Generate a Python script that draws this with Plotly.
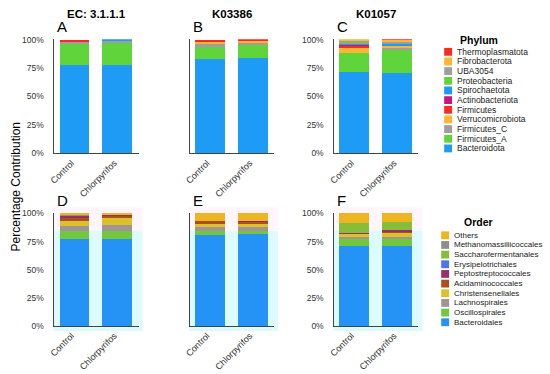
import plotly.graph_objects as go

W, H = 550, 374

samples = ["Control", "Chlorpyrifos"]
panel_titles = ["EC: 3.1.1.1", "K03386", "K01057"]
panel_letters = ["A", "B", "C", "D", "E", "F"]
y_tick_vals = [0, 25, 50, 75, 100]
y_tick_text = ["0%", "25%", "50%", "75%", "100%"]

# Phylum (stack order bottom -> top)
phyla = ["Bacteroidota", "Firmicutes_A", "Firmicutes_C", "Verrucomicrobiota", "Firmicutes",
         "Actinobacteriota", "Spirochaetota", "Proteobacteria", "UBA3054", "Fibrobacterota",
         "Thermoplasmatota"]
phylum_colors = ["#1E9BF5", "#5FD43B", "#9E9E9E", "#FFB52E", "#FF2A1F",
                 "#C4187C", "#1E9BF5", "#5FD43B", "#9E9E9E", "#FFB52E", "#FF2A1F"]

phylum_A_control = [77.5, 19.0, 2.0, 0.0, 1.5, 0.0, 0.0, 0.0, 0.0, 0.0, 0.0]
phylum_A_chlor   = [77.5, 19.5, 2.0, 0.0, 0.0, 0.0, 1.0, 0.0, 0.0, 0.0, 0.0]
phylum_B_control = [83.0, 10.8, 2.0, 2.0, 2.2, 0.0, 0.0, 0.0, 0.0, 0.0, 0.0]
phylum_B_chlor   = [84.3, 10.7, 2.5, 1.5, 1.0, 0.0, 0.0, 0.0, 0.0, 0.0, 0.0]
phylum_C_control = [71.8, 16.6, 0.0, 4.6, 2.0, 0.3, 1.2, 0.5, 2.0, 1.0, 0.0]
phylum_C_chlor   = [70.4, 20.2, 2.4, 1.5, 0.3, 0.0, 1.2, 0.0, 2.0, 1.7, 0.3]

# Order (stack order bottom -> top)
orders = ["Bacteroidales", "Oscillospirales", "Lachnospirales", "Christensenellales",
          "Acidaminococcales", "Peptostreptococcales", "Erysipelotrichales",
          "Saccharofermentanales", "Methanomassiliicoccales", "Others"]
order_colors = ["#2493F5", "#72C83C", "#A09494", "#DCC12A", "#A8501F", "#9B2D6B",
                "#4A78E6", "#86BE3A", "#8E8E8E", "#EDB620"]

order_D_control = [77.4, 6.6, 4.8, 4.5, 3.0, 1.7, 0.0, 0.5, 0.5, 1.0]
order_D_chlor   = [77.4, 6.6, 6.0, 5.5, 3.0, 0.5, 0.0, 0.0, 0.0, 1.0]
order_E_control = [81.0, 3.5, 3.5, 3.0, 2.5, 0.0, 0.0, 0.0, 0.0, 6.5]
order_E_chlor   = [82.3, 1.7, 4.0, 3.0, 2.0, 0.5, 0.0, 0.0, 0.0, 6.5]
order_F_control = [71.3, 6.3, 1.9, 2.5, 0.0, 1.0, 0.0, 8.5, 0.0, 8.5]
order_F_chlor   = [70.8, 6.7, 1.5, 4.3, 1.2, 1.0, 0.0, 6.7, 0.0, 7.8]

panels = [
    (phyla, phylum_colors, phylum_A_control, phylum_A_chlor),
    (phyla, phylum_colors, phylum_B_control, phylum_B_chlor),
    (phyla, phylum_colors, phylum_C_control, phylum_C_chlor),
    (orders, order_colors, order_D_control, order_D_chlor),
    (orders, order_colors, order_E_control, order_E_chlor),
    (orders, order_colors, order_F_control, order_F_chlor),
]


def fx(p):
    return p / W


def fy(p):
    return 1 - p / H


x_px = [(49, 134), (186, 271), (332, 417)]
y_px = [(36, 153), (214, 330)]

FONT = "Liberation Sans, Arial, sans-serif"

fig = go.Figure()
layout = {}
shapes = []
annotations = []

for i, (cats, cols, ctrl, chl) in enumerate(panels):
    n = i + 1
    row, col = divmod(i, 3)
    xs = "" if n == 1 else str(n)
    for cat, colr, v1, v2 in zip(cats, cols, ctrl, chl):
        fig.add_trace(go.Bar(
            x=samples, y=[v1, v2], name=cat, marker=dict(color=colr, line=dict(width=0)),
            width=0.7, showlegend=False, xaxis="x" + xs, yaxis="y" + xs,
            hovertemplate=cat + ": %{y}%<extra></extra>"))
    x0, x1 = x_px[col]
    y0, y1 = y_px[row]
    layout["xaxis" + xs] = dict(
        domain=[fx(x0), fx(x1)], anchor="y" + xs, type="category",
        range=[-0.47, 1.5], tickangle=-45, showline=True, linecolor="#444",
        linewidth=1, ticks="", ticklabelshift=-3,
        tickfont=dict(size=9, color="#333", family=FONT),
        showgrid=False, zeroline=False, fixedrange=True)
    layout["yaxis" + xs] = dict(
        domain=[fy(y1), fy(y0)], anchor="x" + xs, range=[0, 100.5],
        tickvals=y_tick_vals, ticktext=y_tick_text, showticklabels=(col != 1),
        showline=True, linecolor="#444", linewidth=1, ticks="",
        ticklabelstandoff=8,
        tickfont=dict(size=8.5, color="#333", family=FONT),
        showgrid=False, zeroline=False, fixedrange=True)
    annotations.append(dict(
        text=panel_letters[i], x=fx(x0 + 1), y=fy(y0 - 2), xref="paper", yref="paper",
        xanchor="left", yanchor="bottom", showarrow=False,
        font=dict(size=15, color="black", family=FONT)))
    if row == 0:
        annotations.append(dict(
            text="<b>" + panel_titles[col] + "</b>", x=fx((x0 + x1) / 2), y=fy(10),
            xref="paper", yref="paper", xanchor="center", yanchor="middle",
            showarrow=False, font=dict(size=11.5, color="black", family=FONT)))
    else:
        # faint background tint seen in the lower panels
        y84 = y1 - (y1 - y0) * 0.84
        shapes.append(dict(type="rect", xref="paper", yref="paper", layer="below",
                           x0=fx(x0 - 1), x1=fx(x1 + 4), y0=fy(y1 + 5), y1=fy(y84),
                           fillcolor="#DDFBFC", line=dict(width=0)))
        shapes.append(dict(type="rect", xref="paper", yref="paper", layer="below",
                           x0=fx(x0 - 1), x1=fx(x1 + 4), y0=fy(y84), y1=fy(y0 - 6),
                           fillcolor="#FFF5FA", line=dict(width=0)))

# Y axis title
annotations.append(dict(
    text="Percentage Contribution", x=fx(10), y=fy(187), xref="paper", yref="paper",
    xanchor="center", yanchor="middle", textangle=-90, showarrow=False,
    font=dict(size=12, color="black", family=FONT)))


def add_legend(title, cats, cols, title_y, first_y, sq_x, text_x, title_x, fsize):
    annotations.append(dict(
        text="<b>" + title + "</b>", x=fx(title_x), y=fy(title_y), xref="paper", yref="paper",
        xanchor="center", yanchor="middle", showarrow=False,
        font=dict(size=10.5, color="black", family=FONT)))
    for k, (cat, colr) in enumerate(zip(reversed(cats), reversed(cols))):
        yc = first_y + k * 9.9
        shapes.append(dict(type="rect", xref="paper", yref="paper",
                           x0=fx(sq_x), x1=fx(sq_x + 8), y0=fy(yc + 4), y1=fy(yc - 4),
                           fillcolor=colr, line=dict(width=0)))
        annotations.append(dict(
            text=cat, x=fx(text_x), y=fy(yc), xref="paper", yref="paper",
            xanchor="left", yanchor="middle", showarrow=False,
            font=dict(size=fsize, color="#222", family=FONT)))


add_legend("Phylum", phyla, phylum_colors, 37, 49, 443, 454, 478, 8.5)
add_legend("Order", orders, order_colors, 223, 237, 440, 451, 478, 8.0)

fig.update_layout(
    width=W, height=H, margin=dict(l=0, r=0, t=0, b=0),
    paper_bgcolor="white", plot_bgcolor="rgba(0,0,0,0)",
    barmode="stack", showlegend=False, font=dict(family=FONT),
    shapes=shapes, annotations=annotations, **layout)

fig.write_html("out.html", config={"displayModeBar": False},
               post_script="document.body.style.margin='0px';")
